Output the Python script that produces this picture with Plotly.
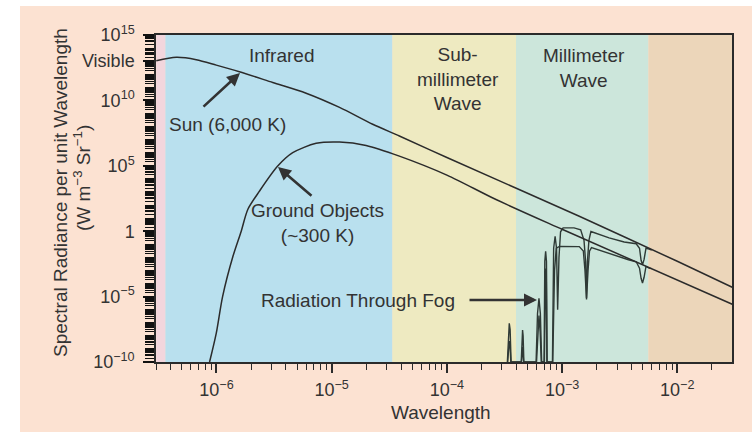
import plotly.graph_objects as go

# ---- spectral bands (wavelength edges in m) ----
band_edges = [3.0e-7, 3.6e-7, 3.37e-5, 3.98e-4, 5.62e-3, 3.0e-2]
band_colors = ["#f2d6dd", "#b9e0ee", "#eeeac1", "#cce6db", "#ecd6ba"]

# ---- blackbody curves: wavelength (m), radiance (W m^-3 sr^-1) ----
sun_wl = [3.0e-7, 4.48e-7, 6.68e-7, 9.96e-7, 1.58e-6, 3.08e-6, 6.0e-6, 1.17e-5,
          2.27e-5, 3.87e-5, 1.0e-4, 1.41e-3, 1.0e-2, 3.0e-2]
sun_rad = [1.07e13, 1.95e13, 1.29e13, 5.0e12, 1.55e12, 2.35e11, 3.55e10, 2.9e9,
           1.5e8, 1.9e7, 4.3e5, 13.8, 5.0e-3, 5.2e-5]

gnd_wl = [8.71e-7, 9.96e-7, 1.13e-6, 1.39e-6, 1.64e-6, 1.87e-6, 2.36e-6, 3.40e-6,
          4.59e-6, 7.33e-6, 1.17e-5, 1.99e-5, 3.87e-5, 1.0e-4, 2.67e-4, 1.0e-3, 3.0e-2]
gnd_rad = [1e-10, 1.6e-8, 1.0e-5, 1.2e-2, 1.0, 46, 1.15e3, 9.5e4,
           1.0e6, 5.2e6, 6.6e6, 3.6e6, 5.5e5, 1.95e4, 263, 1.4, 2.6e-6]

# ---- radiation transmitted through fog ----
sun_fog_wl = [3.35e-4, 3.42e-4, 3.48e-4, 3.54e-4, 3.61e-4,
              4.42e-4, 4.49e-4, 4.54e-4, 4.59e-4, 4.66e-4,
              5.95e-4, 6.12e-4, 6.30e-4, 6.48e-4, 6.65e-4,
              6.98e-4, 7.08e-4, 7.20e-4, 7.32e-4, 7.42e-4,
              8.25e-4, 8.45e-4, 8.70e-4, 8.95e-4, 9.15e-4, 9.40e-4, 9.70e-4, 1.02e-3,
              1.27e-3, 1.45e-3, 1.55e-3, 1.60e-3, 1.63e-3, 1.66e-3, 1.71e-3, 1.78e-3,
              2.56e-3, 3.46e-3, 4.40e-3, 4.70e-3, 4.85e-3, 4.99e-3, 5.15e-3, 5.35e-3,
              5.70e-3, 6.0e-3]
sun_fog_rad = [1e-10, 3e-8, 9e-8, 3e-8, 1e-10,
               1e-10, 1e-8, 2.8e-8, 1e-8, 1e-10,
               1e-10, 5e-7, 7.5e-6, 5e-7, 1e-10,
               1e-10, 5e-3, 2.9e-2, 5e-3, 1e-10,
               1e-10, 5e-2, 0.41, 5e-2, 1e-6, 1e-2, 0.9, 1.8,
               1.8, 1.3, 0.2, 5e-3, 8e-6, 5e-3, 0.2, 0.95,
               0.31, 0.15, 0.11, 0.05, 6e-3, 2.75e-3, 7e-3, 0.05,
               0.043, 0.036]

gnd_fog_wl = [3.37e-4, 3.43e-4, 3.48e-4, 3.53e-4, 3.59e-4,
              4.44e-4, 4.50e-4, 4.54e-4, 4.58e-4, 4.64e-4,
              6.00e-4, 6.15e-4, 6.30e-4, 6.45e-4, 6.60e-4,
              7.02e-4, 7.10e-4, 7.20e-4, 7.30e-4, 7.38e-4,
              8.30e-4, 8.60e-4, 8.90e-4, 9.50e-4, 1.41e-3, 1.53e-3, 1.58e-3, 1.63e-3,
              1.68e-3, 1.73e-3, 1.80e-3, 2.56e-3, 3.77e-3, 4.40e-3, 4.70e-3, 4.85e-3,
              4.99e-3, 5.15e-3, 5.35e-3, 5.70e-3, 6.0e-3]
gnd_fog_rad = [1e-10, 2e-9, 4e-9, 2e-9, 1e-10,
               1e-10, 5e-10, 1.4e-9, 5e-10, 1e-10,
               1e-10, 2e-8, 3.5e-7, 2e-8, 1e-10,
               1e-10, 1.5e-4, 1.4e-3, 1.5e-4, 1e-10,
               1e-10, 1e-3, 0.05, 0.069, 0.066, 0.03, 1e-3, 6e-6,
               1e-3, 0.03, 0.055, 0.019, 6.6e-3, 4.6e-3, 1.5e-3, 2.5e-4,
               1.1e-4, 3e-4, 2e-3, 1.5e-3, 1.38e-3]

# ---- axis ticks ----
x_major = [1e-6, 1e-5, 1e-4, 1e-3, 1e-2]
x_labels = ["10<sup>\u22126</sup>", "10<sup>\u22125</sup>", "10<sup>\u22124</sup>",
            "10<sup>\u22123</sup>", "10<sup>\u22122</sup>"]
y_major = [1e15, 1e13, 1e10, 1e5, 1, 1e-5, 1e-10]
y_labels = ["10<sup>15</sup>", "Visible", "10<sup>10</sup>", "10<sup>5</sup>", "1",
            "10<sup>\u22125</sup>", "10<sup>\u221210</sup>"]

INK = "#2b2b2b"
TXT = "#333333"
FONT = "Liberation Sans, Arial, sans-serif"
W, H = 752, 432
PL, PT, PW, PH = 156, 35, 576, 327


def pxx(x):
    return (x - PL) / PW


def pxy(y):
    return (PT + PH - y) / PH


fig = go.Figure()

# coloured spectral bands
for i, col in enumerate(band_colors):
    a, b = band_edges[i], band_edges[i + 1]
    fig.add_trace(go.Scatter(x=[a, b, b, a, a], y=[1e-10, 1e-10, 1e15, 1e15, 1e-10],
                             mode="lines", fill="toself", fillcolor=col,
                             line=dict(width=0), hoverinfo="skip", showlegend=False))

# fog-transmitted radiation
fig.add_trace(go.Scatter(x=gnd_fog_wl, y=gnd_fog_rad, mode="lines",
                         line=dict(color="#2f3a36", width=1.4), showlegend=False))
fig.add_trace(go.Scatter(x=sun_fog_wl, y=sun_fog_rad, mode="lines",
                         line=dict(color="#2f3a36", width=1.4), showlegend=False))

# blackbody curves
fig.add_trace(go.Scatter(x=sun_wl, y=sun_rad, mode="lines",
                         line=dict(color=INK, width=1.5, shape="spline", smoothing=0.8),
                         showlegend=False))
fig.add_trace(go.Scatter(x=gnd_wl, y=gnd_rad, mode="lines",
                         line=dict(color=INK, width=1.5, shape="spline", smoothing=0.8),
                         showlegend=False))

x_minor = [m * 10.0 ** k for k in range(-7, -1) for m in range(2, 10)]
# unlabelled decades and 2..9 subdivisions on the radiance axis
y_minor = [m * 10.0 ** k for k in range(-10, 15) for m in range(1, 10)
           if not (m == 1 and k in (-10, -5, 0, 5, 10, 13))]

fig.update_xaxes(type="log", range=[-6.525, -1.525], showgrid=False, zeroline=False,
                 showline=True, linecolor=INK, linewidth=1.5, mirror=True,
                 ticks="outside", ticklen=9, tickwidth=1.5, tickcolor=INK,
                 tickmode="array", tickvals=x_major, ticktext=x_labels,
                 ticklabelstandoff=2,
                 tickfont=dict(family=FONT, size=18, color=TXT),
                 minor=dict(tickmode="array", tickvals=x_minor, ticks="outside",
                            ticklen=6, tickwidth=1.2, tickcolor=INK, showgrid=False))
fig.update_yaxes(type="log", range=[-10, 15], showgrid=False, zeroline=False,
                 showline=True, linecolor=INK, linewidth=1.5, mirror=True,
                 ticks="outside", ticklen=11, tickwidth=2, tickcolor="#111",
                 tickmode="array", tickvals=y_major, ticktext=y_labels,
                 ticklabelstandoff=5,
                 tickfont=dict(family=FONT, size=18, color=TXT),
                 minor=dict(tickmode="array", tickvals=y_minor, ticks="outside",
                            ticklen=9, tickwidth=1.3, tickcolor="#111", showgrid=False))

ann = []


def label(text, x, y, size=19, angle=0):
    ann.append(dict(text=text, x=pxx(x), y=pxy(y), xref="paper", yref="paper",
                    showarrow=False, xanchor="center", yanchor="middle",
                    textangle=angle, font=dict(family=FONT, size=size, color=TXT)))


def arrow(hx, hy, tx, ty):
    ann.append(dict(text="", x=pxx(hx), y=pxy(hy), xref="paper", yref="paper",
                    showarrow=True, ax=tx - hx, ay=ty - hy, arrowhead=2,
                    arrowsize=1.0, arrowwidth=2.6, arrowcolor="#333", standoff=0))


label("Infrared", 281, 56)
label("Sub-<br>millimeter<br>Wave", 458, 79)
label("Millimeter<br>Wave", 584, 68)
label("Sun (6,000 K)", 227, 124)
label("Ground Objects<br>(~300 K)", 317, 223)
label("Radiation Through Fog", 358, 300)
label("Wavelength", 441, 412)
label("Spectral Radiance per unit Wavelength", 61, 193, angle=-90)
label("(W m<sup>\u22123</sup> Sr<sup>\u22121</sup>)", 82, 178, angle=-90)

arrow(240, 73, 202, 108)
arrow(278, 167, 313, 197)
arrow(537, 300, 468, 300)

fig.update_layout(
    width=W, height=H, autosize=False,
    margin=dict(l=PL, r=W - PL - PW, t=PT, b=H - PT - PH, pad=0),
    paper_bgcolor="#fce2d2", plot_bgcolor="rgba(0,0,0,0)",
    annotations=ann,
    shapes=[
        dict(type="rect", xref="paper", yref="paper", x0=pxx(-5), x1=pxx(20),
             y0=pxy(H + 5), y1=pxy(-5), fillcolor="white", line=dict(width=0), layer="above"),
        dict(type="rect", xref="paper", yref="paper", x0=pxx(-5), x1=pxx(W + 5),
             y0=pxy(6), y1=pxy(-5), fillcolor="white", line=dict(width=0), layer="above"),
    ],
)

fig.write_html("out.html")
